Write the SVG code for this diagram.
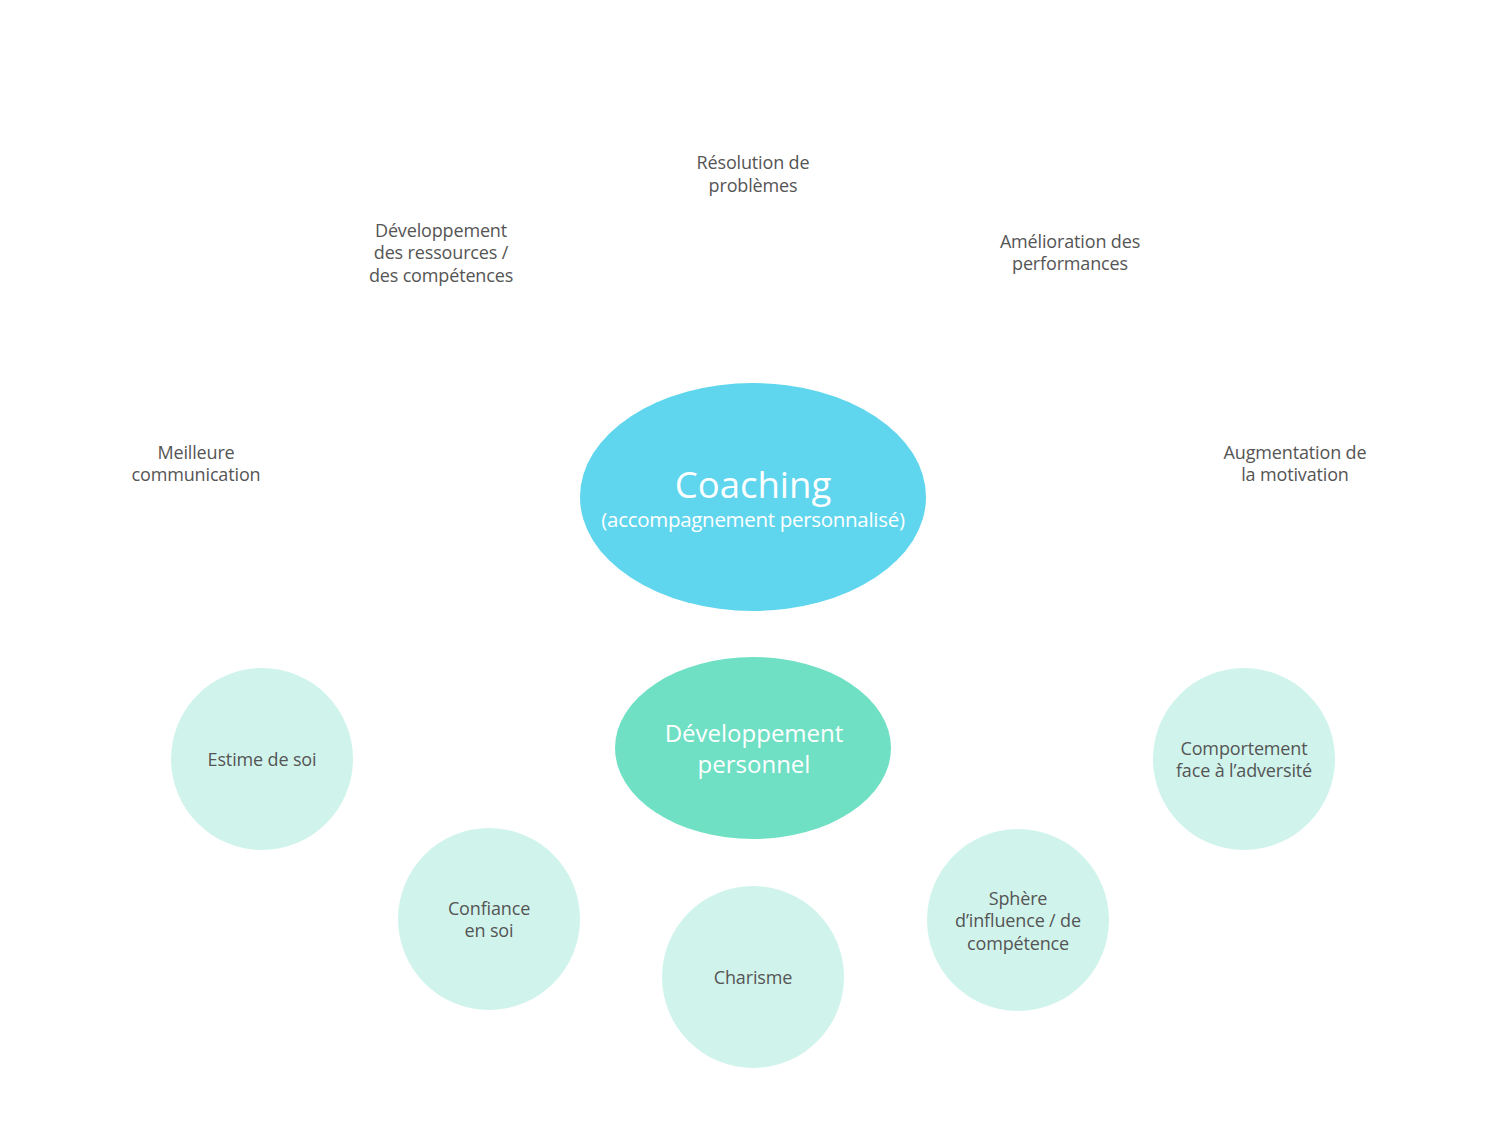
<svg xmlns="http://www.w3.org/2000/svg" width="1493" height="1135" viewBox="0 0 1493 1135">
<style>
.lbl{font-family:"Open Sans","Liberation Sans",sans-serif;font-size:18px;fill:#555555;text-anchor:middle;letter-spacing:-0.15px}
.small{fill:#d0f4ec}
.w{font-family:"Open Sans","Liberation Sans",sans-serif;fill:#ffffff;text-anchor:middle}
</style>
<rect width="1493" height="1135" fill="#ffffff"/>
<g id="connectors"></g>
<g id="resolution"><text class="lbl" x="753" y="169">Résolution de</text><text class="lbl" x="753" y="192">problèmes</text></g>
<g id="developpement-ressources"><text class="lbl" x="441" y="237">Développement</text><text class="lbl" x="441" y="259">des ressources /</text><text class="lbl" x="441" y="282">des compétences</text></g>
<g id="amelioration"><text class="lbl" x="1070" y="248">Amélioration des</text><text class="lbl" x="1070" y="270">performances</text></g>
<g id="communication"><text class="lbl" x="196" y="459">Meilleure</text><text class="lbl" x="196" y="481">communication</text></g>
<g id="motivation"><text class="lbl" x="1295" y="459">Augmentation de</text><text class="lbl" x="1295" y="481">la motivation</text></g>
<g id="coaching"><ellipse cx="753" cy="497" rx="173" ry="114" fill="#5fd6ee"/><text class="w" x="753" y="498" font-size="36.5">Coaching</text><text class="w" x="753" y="527" font-size="20.5" letter-spacing="-0.3">(accompagnement personnalisé)</text></g>
<g id="dev-personnel"><ellipse cx="753" cy="748" rx="138" ry="91" fill="#6fe0c4"/><text class="w" x="754" y="742" font-size="24">Développement</text><text class="w" x="754" y="773" font-size="24">personnel</text></g>
<g id="estime"><circle class="small" cx="262" cy="759" r="91"/><text class="lbl" x="262" y="766">Estime de soi</text></g>
<g id="confiance"><circle class="small" cx="489" cy="919" r="91"/><text class="lbl" x="489" y="915">Confiance</text><text class="lbl" x="489" y="937">en soi</text></g>
<g id="charisme"><circle class="small" cx="753" cy="977" r="91"/><text class="lbl" x="753" y="984">Charisme</text></g>
<g id="sphere"><circle class="small" cx="1018" cy="920" r="91"/><text class="lbl" x="1018" y="905">Sphère</text><text class="lbl" x="1018" y="927">d’influence / de</text><text class="lbl" x="1018" y="950">compétence</text></g>
<g id="comportement"><circle class="small" cx="1244" cy="759" r="91"/><text class="lbl" x="1244" y="755">Comportement</text><text class="lbl" x="1244" y="777">face à l’adversité</text></g>
</svg>
